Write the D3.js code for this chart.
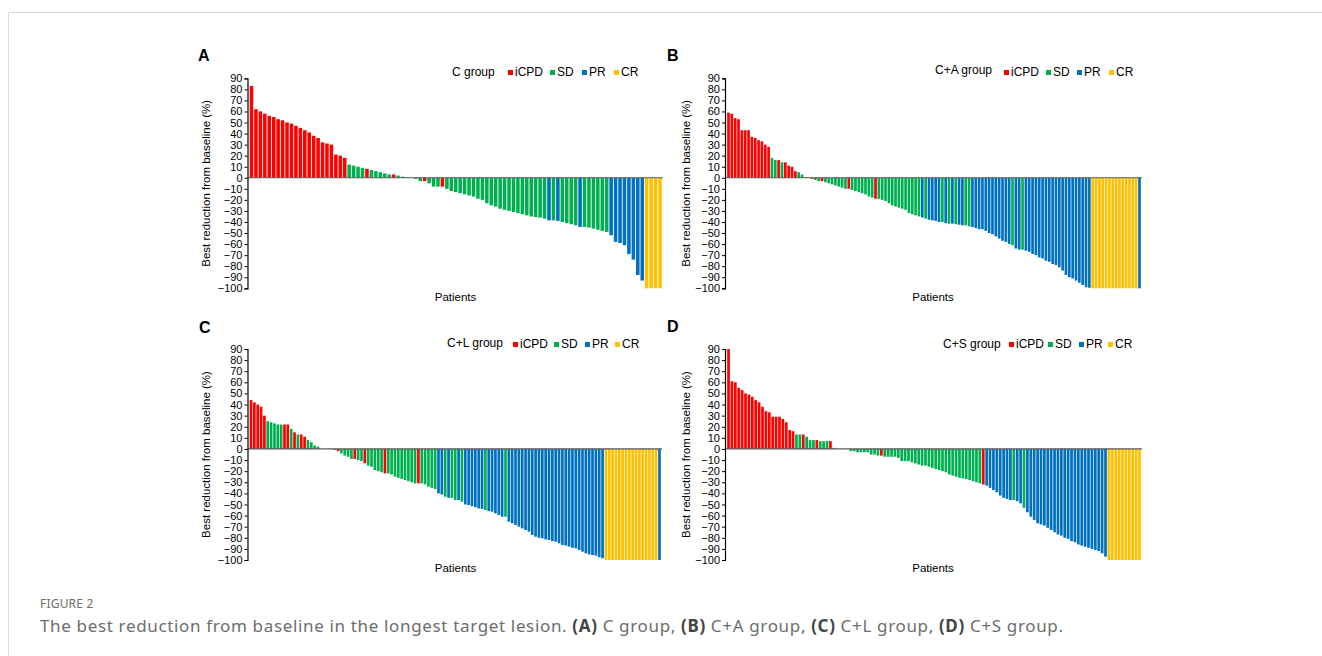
<!DOCTYPE html>
<html>
<head>
<meta charset="utf-8">
<script src="https://cdn.jsdelivr.net/npm/d3@7"></script>
<style>
  body { margin: 0; background: #fff; }
  svg { display: block; font-family: "Liberation Sans", Arial, sans-serif; }
</style>
</head>
<body>
<svg id="chart" width="1322" height="656"></svg>
<script>
// response codes: R = iCPD, G = SD, B = PR, Y = CR
const legendLabels = ['iCPD', 'SD', 'PR', 'CR'];
const legendCodes = ['R', 'G', 'B', 'Y'];
const yTicks = [90, 80, 70, 60, 50, 40, 30, 20, 10, 0, -10, -20, -30, -40, -50, -60, -70, -80, -90, -100];

// A: C group
const valuesA = [83, 62, 60, 58, 56, 55, 53, 52, 50, 49, 47, 45, 43, 41, 38, 36, 32, 31, 30, 21, 20, 18,
  12, 11, 10, 9, 8, 7, 6, 5, 4, 3, 3, 2, 1, 0.5, 0, -1,
  -3, -3, -5, -8, -8, -8,
  -10, -12, -13, -14, -15, -16, -17, -19, -20, -23, -25, -26, -28, -29, -30, -31, -32, -33, -34, -35, -35.5, -36, -37,
  -38.5, -38.5, -39, -40, -41, -42, -43, -44.5, -44.5, -45, -46, -47, -48, -49,
  -52, -58, -59, -61, -69, -74, -88, -93,
  -100, -100, -100, -100];
const codesA = 'RRRRRRRRRRRRRRRRRRRRRR' + 'GGGGRGGGGGRGGGGG' + 'GRGGGR' +
  'GGGGGGGGGGGGGGGGGGGGGGG' + 'BGBGGGGBGGGGGG' + 'BBBBBBBB' + 'YYYY';

// B: C+A group
const valuesB = [59, 58, 54, 53, 43, 43, 43, 37, 36, 34, 33, 30, 28,
  18, 16, 16, 14, 14, 11, 10, 6, 5, 3,
  0.5, 0.3, -1, -2, -3, -3, -4, -5, -6, -7,
  -8, -9, -10, -10, -11, -12, -13, -14, -15, -17,
  -18, -19, -19, -20, -21, -23, -25, -26, -27,
  -28, -29, -32, -33, -34, -35, -36, -37, -38, -38.5,
  -39, -40, -40, -41, -41.5, -41.5, -42, -42.5, -43, -43,
  -44, -44.5, -45.5, -46.5, -46.5, -48, -50, -51, -53, -55,
  -57, -58, -60, -61, -64, -65, -65, -66, -67, -69,
  -70, -72, -73, -75, -76, -78, -79, -81, -84, -88,
  -90, -91, -93, -95, -97, -99, -99.5,
  -100, -100, -100, -100, -100, -100, -100, -100, -100, -100, -100, -100, -100, -100,
  -100];
const codesB = 'RRRRRRRRRRRRR' + 'GGRGRRRRGG' + 'GGRGGRGGGG' + 'GGGRGGGGGG' + 'GRGGGGGGG' +
  'GGGGGGBGBB' + 'BBGBGBGBBG' + 'GBBBBBBBBB' + 'BBBGBBGBBB' + 'BBBBBBBBBB' + 'BBBBBBB' +
  'YYYYYYYYYYYYYY' + 'B';

// C: C+L group
const valuesC = [44, 42, 40, 38, 30, 25, 24, 23, 22, 22,
  22, 22, 18, 15, 13, 13, 11, 8, 6, 3,
  2, 0, 0, 0, 0, -1, -2, -4, -6, -7,
  -9, -9, -10, -11, -13, -15, -16, -19, -20, -21,
  -22, -22, -23, -25, -26, -27, -28, -29, -30, -31,
  -31,
  -31, -32, -34, -35, -36, -40, -41, -43, -44, -44,
  -46, -46, -47.5, -50, -50.5, -51.5, -52.5, -53.5, -54, -55,
  -56, -56.5, -58, -59.5, -61, -61, -65.5, -67, -68.5, -70,
  -71.5, -73, -74.5, -77.5, -79, -80, -80.5, -81.5, -82, -83,
  -83.5, -85, -86.5, -87, -88, -89, -89.5, -91, -92.5, -94,
  -95, -95.5, -96, -97.5, -98.5,
  -100, -100, -100, -100, -100, -100, -100, -100, -100, -100, -100, -100, -100, -100, -100, -100,
  -100];
const codesC = 'RRRRR' + 'GGGGG' + 'RRGRG' + 'RRGGG' + 'GGGGG' + 'GRGGG' + 'GRGGR' + 'GGGGG' + 'RGGGG' + 'GGGGG' + 'R' +
  'GGGGG' + 'BBGBG' + 'GBGBB' + 'BBBBG' + 'BBBBB' + 'GBBBB' +
  'BBBBBBBBBBBBBBBBBBBBBBBBB' + 'YYYYYYYYYYYYYYYY' + 'B';

// D: C+S group
const valuesD = [90, 61, 60, 55, 53, 50, 49, 47, 44, 42, 38, 34, 33, 29, 29, 29, 27, 24, 17, 16,
  13, 13, 13, 11, 8, 8, 8, 7, 7, 7, 7, 1,
  0, 0, 0, 0,
  -2, -2, -3, -3, -3, -3, -5, -5, -6, -6, -7, -7, -7, -7,
  -8, -11, -11, -11, -12, -13, -14, -15, -15, -16,
  -17, -18, -19, -20, -21, -23, -24, -25, -26, -26.5,
  -27, -28, -29, -30, -31,
  -32,
  -33, -35, -37, -39, -42, -44, -45, -46,
  -46,
  -47, -49,
  -53,
  -57, -61, -64, -67, -68, -69, -71, -73, -75, -77,
  -78, -80, -81, -83, -84, -86, -87, -88, -89, -90,
  -91, -92, -94, -97,
  -100, -100, -100, -100, -100, -100, -100, -100, -100, -100];
const codesD = 'RRRRRRRRRRRRRRRRRRRR' + 'GGRGGGRGGGRG' + 'GGGG' + 'GGGGGGGGGRGGGG' +
  'GGGGGGGGGGGGGGGGGGGGGGGGG' + 'R' + 'BBBBBBBB' + 'G' + 'BB' + 'G' +
  'BBBBBBBBBBBBBBBBBBBBBBBB' + 'YYYYYYYYYY';

const colour = { R: '#FF0000', G: '#00B050', B: '#0070C0', Y: '#FFC000' };

const svg = d3.select('#chart');

// page frame and caption
svg.append('path')
   .attr('d', 'M8.5,656 V12.5 H1322')
   .attr('fill', 'none')
   .attr('stroke', '#d9d9d9');

svg.append('text')
   .attr('x', 40).attr('y', 608)
   .attr('font-family', '"Noto Sans", "Open Sans", sans-serif')
   .attr('font-size', 12)
   .attr('fill', '#6d6d6d')
   .attr('letter-spacing', 0.2)
   .text('FIGURE 2');

let caption = svg.append('text')
   .attr('x', 40).attr('y', 632)
   .attr('font-family', '"Noto Sans", "Open Sans", sans-serif')
   .attr('font-size', 17)
   .attr('fill', '#6d6d6d')
   .attr('textLength', 1023)
   .attr('lengthAdjust', 'spacing');
let capParts = [
  ['The best reduction from baseline in the longest target lesion. ', false],
  ['(A)', true], [' C group, ', false],
  ['(B)', true], [' C+A group, ', false],
  ['(C)', true], [' C+L group, ', false],
  ['(D)', true], [' C+S group.', false]
];
capParts.forEach(p => {
  caption.append('tspan')
         .attr('font-weight', p[1] ? 'bold' : 'normal')
         .attr('fill', p[1] ? '#444' : '#6d6d6d')
         .text(p[0]);
});

let panels = [
  { letter: 'A', lx: 198, ly: 61, axisX: 247.5, x0: 249.5, x1: 662, top: 78.3, bottom: 288.3,
    titleX: 206, patY: 301, group: 'C group', gx: 452, gy: 76, lgY: 76,
    sq: [508, 550, 582, 614], values: valuesA, codes: codesA },
  { letter: 'B', lx: 667, ly: 61, axisX: 725, x0: 727, x1: 1141, top: 78.3, bottom: 288.3,
    titleX: 686, patY: 301, group: 'C+A group', gx: 935, gy: 74, lgY: 76,
    sq: [1004, 1046, 1077, 1109], values: valuesB, codes: codesB },
  { letter: 'C', lx: 199, ly: 333, axisX: 247.5, x0: 249.5, x1: 661, top: 349, bottom: 560,
    titleX: 206, patY: 572, group: 'C+L group', gx: 447, gy: 347, lgY: 348,
    sq: [513, 554, 585, 615], values: valuesC, codes: codesC },
  { letter: 'D', lx: 667, ly: 332, axisX: 725, x0: 727, x1: 1141, top: 349, bottom: 560,
    titleX: 686, patY: 572, group: 'C+S group', gx: 943, gy: 348, lgY: 348,
    sq: [1009, 1048, 1079, 1108], values: valuesD, codes: codesD }
];

panels.forEach(p => drawPanel(p));

function drawPanel(p) {
  let g = svg.append('g');
  let codes = p.codes.split('');

  let yScale = d3.scaleLinear().domain([-100, 90]).range([p.bottom, p.top]);
  let xScale = d3.scaleBand()
                 .domain(d3.range(p.values.length))
                 .range([p.x0, p.x1])
                 .paddingInner(0.2)
                 .paddingOuter(0.05);

  g.selectAll('rect.bar')
   .data(p.values)
   .enter()
   .append('rect')
   .attr('class', 'bar')
   .attr('x', (d, i) => xScale(i))
   .attr('width', xScale.bandwidth())
   .attr('y', d => Math.min(yScale(d), yScale(0)))
   .attr('height', d => Math.abs(yScale(d) - yScale(0)))
   .attr('fill', (d, i) => colour[codes[i]]);

  // zero line
  g.append('line')
   .attr('x1', p.axisX).attr('x2', p.x1 + 1)
   .attr('y1', yScale(0)).attr('y2', yScale(0))
   .attr('stroke', '#595959')
   .attr('stroke-width', 1.2);

  let yAxis = d3.axisLeft(yScale).tickValues(yTicks).tickSize(3).tickPadding(2);
  let ax = g.append('g')
            .attr('transform', 'translate(' + p.axisX + ',0)')
            .call(yAxis);
  ax.selectAll('text').attr('font-size', 11).attr('fill', '#000').attr('font-family', '"Liberation Sans", Arial, sans-serif');
  ax.selectAll('line').attr('stroke', '#000');
  ax.select('.domain').attr('stroke', '#000').attr('stroke-width', 1.2);

  g.append('text')
   .attr('transform', 'translate(' + p.titleX + ',' + ((p.top + p.bottom) / 2) + ') rotate(-90)')
   .attr('text-anchor', 'middle')
   .attr('dy', '0.35em')
   .attr('font-size', 11.5)
   .text('Best reduction from baseline (%)');

  g.append('text')
   .attr('x', (p.x0 + 206)).attr('y', p.patY)
   .attr('text-anchor', 'middle')
   .attr('font-size', 11.5)
   .text('Patients');

  g.append('text')
   .attr('x', p.lx).attr('y', p.ly)
   .attr('font-size', 16)
   .attr('font-weight', 'bold')
   .text(p.letter);

  // legend
  g.append('text')
   .attr('x', p.gx).attr('y', p.gy)
   .attr('font-size', 12)
   .text(p.group);

  legendCodes.forEach((c, i) => {
    g.append('rect')
     .attr('x', p.sq[i]).attr('y', p.lgY - 6)
     .attr('width', 5).attr('height', 5)
     .attr('fill', colour[c]);
    g.append('text')
     .attr('x', p.sq[i] + 7).attr('y', p.lgY)
     .attr('font-size', 12)
     .text(legendLabels[i]);
  });
}
</script>
</body>
</html>
